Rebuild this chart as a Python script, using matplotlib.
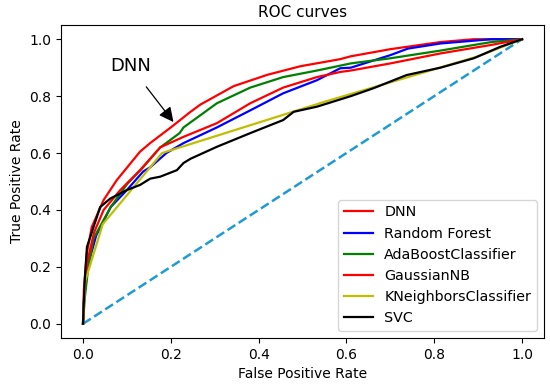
import matplotlib
matplotlib.use('Agg')
import matplotlib.pyplot as plt

# ROC points (fpr, tpr)
dnn_fpr = [0.0, 0.002, 0.009, 0.02, 0.047, 0.077, 0.13, 0.153, 0.2, 0.245, 0.267, 0.343, 0.42, 0.495, 0.586, 0.61, 0.70, 0.814, 0.89, 1.0]
dnn_tpr = [0.0, 0.12, 0.25, 0.34, 0.435, 0.505, 0.605, 0.635, 0.69, 0.745, 0.77, 0.835, 0.875, 0.905, 0.93, 0.94, 0.965, 0.99, 1.0, 1.0]

rf_fpr = [0.0, 0.003, 0.012, 0.03, 0.063, 0.1, 0.137, 0.153, 0.19, 0.229, 0.305, 0.381, 0.456, 0.533, 0.586, 0.61, 0.70, 0.74, 0.814, 0.93, 1.0]
rf_tpr = [0.0, 0.10, 0.21, 0.31, 0.41, 0.47, 0.535, 0.55, 0.60, 0.635, 0.69, 0.75, 0.81, 0.856, 0.898, 0.90, 0.944, 0.967, 0.985, 1.0, 1.0]

ada_fpr = [0.0, 0.004, 0.012, 0.024, 0.063, 0.1, 0.137, 0.176, 0.22, 0.229, 0.305, 0.381, 0.456, 0.533, 0.61, 0.70, 0.814, 0.93, 1.0]
ada_tpr = [0.0, 0.09, 0.20, 0.30, 0.41, 0.49, 0.55, 0.62, 0.67, 0.69, 0.775, 0.83, 0.867, 0.89, 0.915, 0.933, 0.96, 0.99, 1.0]

gnb_fpr = [0.0, 0.003, 0.01, 0.025, 0.047, 0.085, 0.13, 0.176, 0.229, 0.305, 0.381, 0.456, 0.533, 0.586, 0.61, 0.70, 0.814, 0.93, 1.0]
gnb_tpr = [0.0, 0.11, 0.22, 0.32, 0.40, 0.47, 0.54, 0.62, 0.657, 0.705, 0.775, 0.83, 0.867, 0.885, 0.89, 0.915, 0.95, 0.98, 1.0]

knn_fpr = [0.0, 0.005, 0.045, 0.18, 0.55, 0.9, 1.0]
knn_tpr = [0.0, 0.15, 0.35, 0.60, 0.78, 0.94, 1.0]

svc_fpr = [0.0, 0.002, 0.004, 0.009, 0.024, 0.039, 0.062, 0.1, 0.13, 0.153, 0.176, 0.214, 0.229, 0.245, 0.305, 0.381, 0.456, 0.48, 0.533, 0.61, 0.662, 0.737, 0.814, 0.89, 0.95, 1.0]
svc_tpr = [0.0, 0.08, 0.155, 0.27, 0.34, 0.41, 0.44, 0.47, 0.488, 0.51, 0.517, 0.54, 0.565, 0.58, 0.622, 0.67, 0.716, 0.745, 0.763, 0.80, 0.828, 0.874, 0.90, 0.933, 0.973, 1.0]

models = ['DNN', 'Random Forest', 'AdaBoostClassifier', 'GaussianNB', 'KNeighborsClassifier', 'SVC']
curves = [(dnn_fpr, dnn_tpr), (rf_fpr, rf_tpr), (ada_fpr, ada_tpr),
          (gnb_fpr, gnb_tpr), (knn_fpr, knn_tpr), (svc_fpr, svc_tpr)]
colors = ['red', 'blue', 'green', 'red', 'y', 'black']

fig = plt.figure(figsize=(5.5, 3.87), dpi=100)
ax = fig.add_axes([0.111, 0.1266, 0.878, 0.8088])

ax.plot([0, 1], [0, 1], color='#1f9bd4', lw=1.8, linestyle='--')
for name, (fpr, tpr), c in zip(models, curves, colors):
    ax.plot(fpr, tpr, color=c, lw=1.6, label=name)

ax.annotate('DNN', xy=(0.206, 0.709), xytext=(0.108, 0.905),
            fontsize=13, ha='center', va='center',
            arrowprops=dict(arrowstyle='-|>', color='black', lw=0.9,
                            mutation_scale=22, shrinkA=8, shrinkB=0))

ax.set_title('ROC curves', fontsize=11)
ax.set_xlabel('False Positive Rate', fontsize=10)
ax.set_ylabel('True Positive Rate', fontsize=10)
ax.tick_params(labelsize=10)
ax.legend(loc='lower right', fontsize=10.3)

fig.savefig('out.png', dpi=100)
